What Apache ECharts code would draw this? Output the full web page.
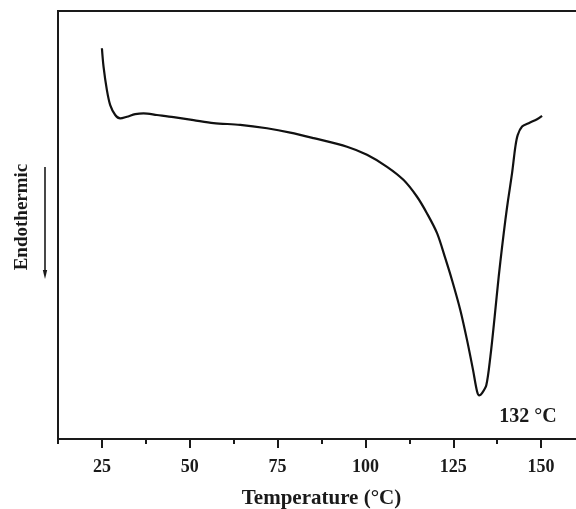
<!DOCTYPE html>
<html>
<head>
<meta charset="utf-8">
<script src="https://cdn.jsdelivr.net/npm/echarts@6/dist/echarts.min.js"></script>
<style>html,body{margin:0;padding:0;background:#fff;}#c{width:576px;height:509px;}</style>
</head>
<body>
<div id="c"></div>
<script>
// Temperature (°C)
const temperature = [25.0,25.46,26.42,27.36,28.79,30.21,32.12,34.48,36.85,40.66,45.39,51.08,56.78,64.38,71.98,78.6,85.25,94.76,100.45,106.15,110.88,114.69,117.54,120.39,122.75,124.66,127.02,128.93,130.64,131.78,132.43,133.2,134.42,135.56,136.79,137.93,138.9,139.84,140.6,141.74,142.68,143.34,144.59,146.47,148.86,150.28];
// Heat flow (arbitrary units, endothermic downward)
const heatFlow = [91.3,87.0,81.5,78.0,75.7,74.9,75.3,75.9,76.1,75.7,75.2,74.5,73.8,73.4,72.6,71.6,70.3,68.3,66.4,63.6,60.5,56.6,52.7,48.1,42.2,37.1,30.1,23.1,16.1,11.1,10.2,10.7,12.6,19.2,28.6,37.9,44.9,51.2,55.8,62.1,68.3,71.0,73.0,73.8,74.7,75.5];
const majorTicks = [25,50,75,100,125,150];
const minorTicks = [12.5,37.5,62.5,87.5,112.5,137.5,162.5];
const xName = 'Temperature (°C)';
const yName = 'Endothermic';
const peakLabel = '132 °C';

const font = '"Liberation Serif","DejaVu Serif",serif';
const ink = '#1a1a1a';
const data = temperature.map((t,i)=>[t,heatFlow[i]]);

const chart = echarts.init(document.getElementById('c'));
chart.setOption({
  animation:false,
  backgroundColor:'#fff',
  grid:{left:58,top:11,width:527,height:428,containLabel:false,outerBoundsMode:'none',
        show:true,borderColor:ink,borderWidth:2,backgroundColor:'transparent'},
  xAxis:[{
    type:'value',min:12.5,max:162.5,
    name:xName,nameLocation:'middle',nameGap:49,
    nameTextStyle:{fontFamily:font,fontWeight:'bold',fontSize:21,color:ink},
    axisLine:{show:true,lineStyle:{color:ink,width:2}},
    axisTick:{show:true,customValues:majorTicks,length:9,lineStyle:{color:ink,width:2}},
    axisLabel:{show:true,customValues:majorTicks,margin:19,fontFamily:font,fontWeight:'bold',fontSize:18,color:ink},
    splitLine:{show:false}
  },{
    type:'value',min:12.5,max:162.5,position:'bottom',
    axisLine:{show:false},
    axisTick:{show:true,customValues:minorTicks,length:5,lineStyle:{color:ink,width:2}},
    axisLabel:{show:false},
    splitLine:{show:false}
  }],
  yAxis:{
    type:'value',min:0,max:100,
    axisLine:{show:true,lineStyle:{color:ink,width:2}},
    axisTick:{show:false},axisLabel:{show:false},splitLine:{show:false}
  },
  series:[{
    type:'line',xAxisIndex:0,data:data,smooth:0.3,showSymbol:false,
    lineStyle:{color:'#111',width:2.2}
  }],
  graphic:[
    {type:'text',x:22,y:217,rotation:Math.PI/2,
     style:{text:yName,fontFamily:font,fontWeight:'bold',fontSize:19,fill:ink,align:'center',verticalAlign:'middle'}},
    {type:'line',shape:{x1:45,y1:167,x2:45,y2:272},style:{stroke:ink,lineWidth:1.6}},
    {type:'polygon',shape:{points:[[42.8,270],[47.2,270],[45,279]]},style:{fill:ink}},
    {type:'text',x:528,y:417,
     style:{text:peakLabel,fontFamily:font,fontWeight:'bold',fontSize:20,fill:ink,align:'center',verticalAlign:'middle'}}
  ]
});
</script>
</body>
</html>
